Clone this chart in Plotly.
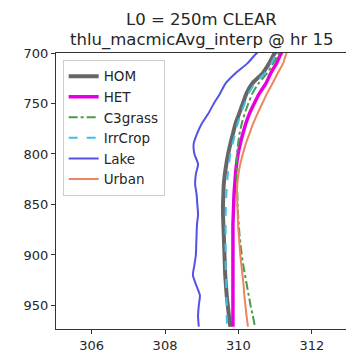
import plotly.graph_objects as go

# Pressure levels (hPa)
pressure = [690, 700, 710, 720, 730, 740, 750, 760, 770, 780, 790, 800, 810, 820, 830,
            840, 850, 860, 870, 880, 890, 900, 910, 920, 930, 940, 950, 960, 971]

# Potential temperature profiles (K)
hom = [311.25, 310.99, 310.84, 310.66, 310.38, 310.22, 310.12, 310.02, 309.92, 309.85,
       309.78, 309.72, 309.67, 309.63, 309.60, 309.59, 309.58, 309.58, 309.59, 309.60,
       309.61, 309.62, 309.63, 309.64, 309.66, 309.68, 309.71, 309.74, 309.78]
het = [311.40, 311.17, 311.04, 310.88, 310.75, 310.57, 310.43, 310.30, 310.20, 310.12,
       310.05, 309.99, 309.95, 309.92, 309.90, 309.88, 309.87, 309.86, 309.85, 309.85,
       309.85, 309.85, 309.85, 309.85, 309.85, 309.85, 309.85, 309.85, 309.85]
c3grass = [311.33, 311.10, 310.95, 310.78, 310.55, 310.38, 310.27, 310.17, 310.09, 310.03,
           309.99, 309.96, 309.95, 309.95, 309.96, 309.97, 309.98, 309.99, 310.01, 310.03,
           310.06, 310.09, 310.13, 310.18, 310.23, 310.28, 310.33, 310.39, 310.45]
irrcrop = [311.30, 311.05, 310.90, 310.72, 310.45, 310.28, 310.17, 310.07, 309.98, 309.91,
           309.84, 309.78, 309.74, 309.71, 309.69, 309.67, 309.66, 309.65, 309.65, 309.65,
           309.65, 309.65, 309.65, 309.66, 309.67, 309.67, 309.68, 309.68, 309.69]
lake = [310.85, 310.50, 310.25, 309.92, 309.65, 309.50, 309.33, 309.18, 309.00, 308.87,
        308.78, 308.80, 308.90, 308.84, 308.82, 308.86, 308.88, 308.90, 308.87, 308.86,
        308.85, 308.84, 308.80, 308.76, 308.85, 308.95, 308.92, 308.90, 308.92]
urban = [311.50, 311.31, 311.22, 311.07, 310.93, 310.78, 310.65, 310.52, 310.40, 310.30,
         310.20, 310.12, 310.05, 310.00, 309.97, 309.96, 309.97, 309.98, 309.99, 310.01,
         310.03, 310.05, 310.08, 310.11, 310.14, 310.16, 310.19, 310.22, 310.26]

x_ticks = [306, 308, 310, 312]
y_ticks = [700, 750, 800, 850, 900, 950]

series = [
    ("HOM", hom, "#666666", 4, "solid"),
    ("HET", het, "#e600e0", 3.5, "solid"),
    ("C3grass", c3grass, "#4a9a4a", 2, "dashdot"),
    ("IrrCrop", irrcrop, "#3fc0e6", 2, "dash"),
    ("Lake", lake, "#5252e6", 2, "solid"),
    ("Urban", urban, "#ec8560", 2, "solid"),
]

fig = go.Figure()
for name, vals, color, width, dash in series:
    fig.add_trace(go.Scatter(
        x=vals, y=pressure, mode="lines", name=name,
        line=dict(color=color, width=width, dash=dash, shape="spline", smoothing=0.6),
    ))

W, H = 346, 361
ml, mr, mt, mb = 56, 0, 52.5, 32

font_family = "DejaVu Sans"
fig.update_layout(
    width=W, height=H,
    margin=dict(l=ml, r=mr, t=mt, b=mb, pad=0),
    paper_bgcolor="white", plot_bgcolor="white",
    font=dict(family=font_family, size=13, color="#262626"),
    showlegend=True,
    legend=dict(
        x=0.023, y=0.975, xanchor="left", yanchor="top",
        bgcolor="rgba(255,255,255,0.8)", bordercolor="#cccccc", borderwidth=1,
        font=dict(family=font_family, size=13.5, color="#262626"),
    ),
    annotations=[
        dict(text="L0 = 250m CLEAR", xref="paper", yref="paper",
             x=0.5, y=1 + (52.5 - 19) / 276.5, xanchor="center", yanchor="middle",
             showarrow=False, font=dict(family=font_family, size=16.5, color="#262626")),
        dict(text="thlu_macmicAvg_interp @ hr 15", xref="paper", yref="paper",
             x=0.5, y=1 + (52.5 - 39) / 276.5, xanchor="center", yanchor="middle",
             showarrow=False, font=dict(family=font_family, size=16.5, color="#262626")),
    ],
)
fig.update_xaxes(
    range=[305.03, 312.93], tickvals=x_ticks, ticks="outside", ticklen=4,
    tickcolor="#333333", showline=True, linecolor="#333333", linewidth=1,
    mirror=True, showgrid=False, zeroline=False,
)
fig.update_yaxes(
    range=[973.3, 700], tickvals=y_ticks, ticks="outside", ticklen=4,
    tickcolor="#333333", showline=True, linecolor="#333333", linewidth=1,
    showgrid=False, zeroline=False,
)

fig.write_html("out.html")
